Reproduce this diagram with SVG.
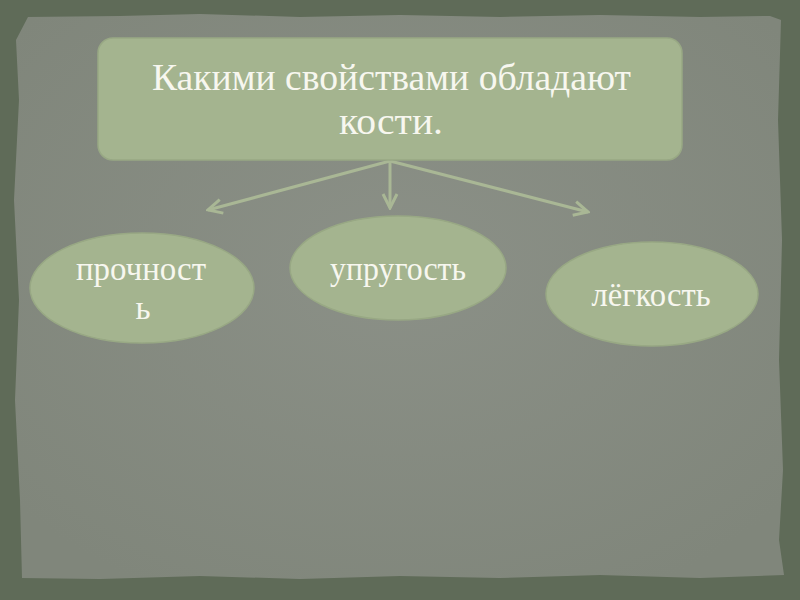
<svg xmlns="http://www.w3.org/2000/svg" width="800" height="600" viewBox="0 0 800 600">
<defs>
<style>
.node{fill:#a4b48f;stroke:#98a884;stroke-width:1.5}
.t{font-family:"Liberation Serif","DejaVu Serif",serif;fill:#f7f7ef;text-anchor:middle}
.c{stroke:#a9b795;stroke-width:3;fill:none}
</style>
<marker id="a" viewBox="0 0 20 20" refX="18" refY="10" markerWidth="20" markerHeight="20" orient="auto" markerUnits="userSpaceOnUse">
<path d="M4,3 L18,10 L4,17" fill="none" stroke="#a9b795" stroke-width="3"/>
</marker>
<radialGradient id="pg" cx="50%" cy="45%" r="65%">
<stop offset="0" stop-color="#8b9087"/>
<stop offset="1" stop-color="#80867b"/>
</radialGradient>
</defs>
<rect x="0" y="0" width="800" height="600" fill="#5f6b58"/>
<path d="M28,17 L120,16 L200,14 L300,17 L400,15 L500,17 L600,15 L700,17 L770,16 L781,20 L778,120 L782,240 L779,360 L783,470 L779,540 L784,575 L700,578 L600,575 L500,578 L400,576 L300,579 L200,576 L100,579 L22,578 L20,500 L15,400 L19,300 L14,200 L19,100 L16,40 Z" fill="url(#pg)"/>
<g id="connectors">
<line class="c" x1="390" y1="161" x2="208" y2="210" marker-end="url(#a)"/>
<line class="c" x1="390" y1="161" x2="390" y2="208" marker-end="url(#a)"/>
<line class="c" x1="390" y1="161" x2="588" y2="212" marker-end="url(#a)"/>
</g>
<g id="title">
<rect class="node" x="98" y="38" width="584" height="122" rx="15"/>
<text class="t" x="391.5" y="90" font-size="37" textLength="479" lengthAdjust="spacingAndGlyphs">Какими свойствами обладают</text>
<text class="t" x="391" y="134" font-size="37" textLength="104" lengthAdjust="spacingAndGlyphs">кости.</text>
</g>
<g id="n1">
<ellipse class="node" cx="142" cy="288" rx="112" ry="55"/>
<text class="t" x="141" y="280" font-size="33" textLength="130" lengthAdjust="spacingAndGlyphs">прочност</text>
<text class="t" x="143" y="319" font-size="33">ь</text>
</g>
<g id="n2">
<ellipse class="node" cx="398" cy="268" rx="108" ry="52"/>
<text class="t" x="398" y="280" font-size="33" textLength="136" lengthAdjust="spacingAndGlyphs">упругость</text>
</g>
<g id="n3">
<ellipse class="node" cx="652" cy="294" rx="106" ry="52"/>
<text class="t" x="651" y="306" font-size="33" textLength="119" lengthAdjust="spacingAndGlyphs">лёгкость</text>
</g>
</svg>
